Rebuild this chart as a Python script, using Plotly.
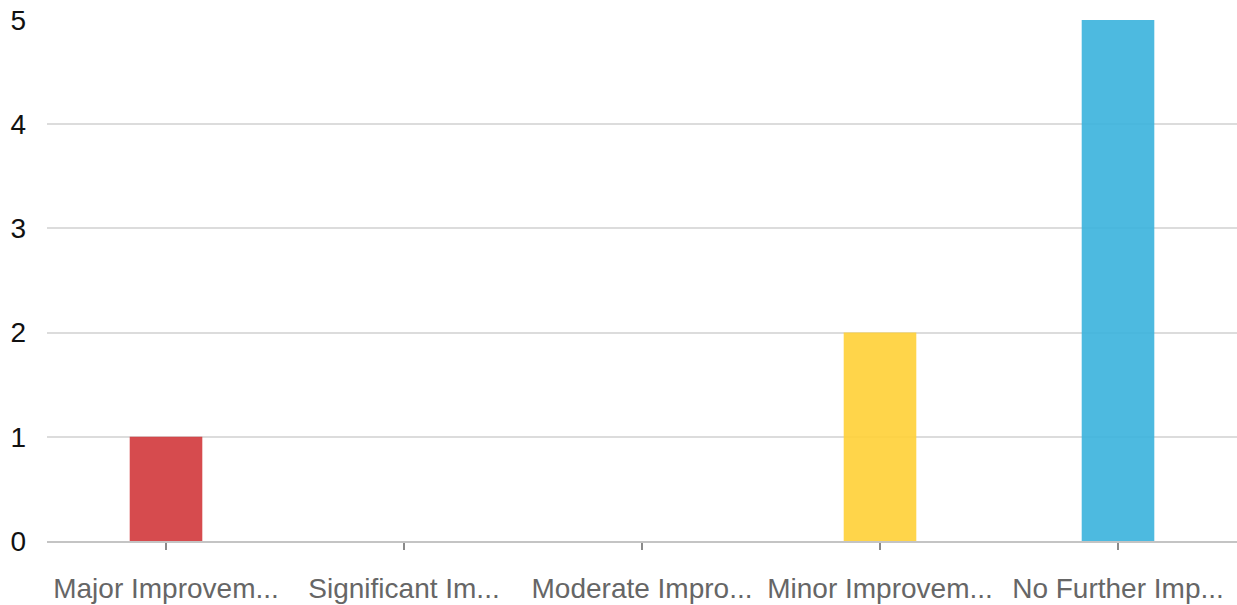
import plotly.graph_objects as go

categories = ["Major Improvem...", "Significant Im...", "Moderate Impro...", "Minor Improvem...", "No Further Imp..."]
values = [1, 0, 0, 2, 5]
colors = ["rgba(209,55,59,0.9)", "rgba(255,255,255,0)", "rgba(255,255,255,0)", "rgba(255,208,54,0.9)", "rgba(58,178,221,0.9)"]

fig = go.Figure(go.Bar(x=categories, y=values, marker=dict(color=colors, line=dict(width=0)), width=0.305))

fig.update_layout(
    width=1237, height=605,
    margin=dict(l=47, r=0, t=20, b=64),
    paper_bgcolor="white", plot_bgcolor="white",
    font=dict(family="Liberation Sans, Arial, sans-serif"),
    showlegend=False,
)
fig.update_xaxes(
    automargin=False,
    showgrid=False, showline=True, linecolor="#c4c4c4", linewidth=2,
    ticks="outside", ticklen=7, tickcolor="#8a8a8a", tickwidth=2,
    tickfont=dict(size=28, color="#666666"), ticklabelstandoff=14,
)
fig.update_yaxes(
    automargin=False,
    range=[0, 5], dtick=1, showgrid=True, gridcolor="#dcdcdc", gridwidth=2,
    zeroline=False, showline=False, ticklabeloverflow="allow",
    tickfont=dict(size=28, color="#111111"), ticklabelstandoff=20,
)
fig.write_html("out.html", config={"displayModeBar": False},
               post_script="document.body.style.margin='0';")
